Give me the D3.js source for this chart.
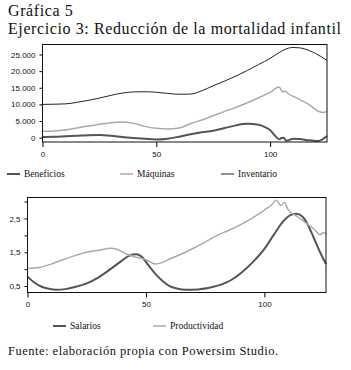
<!DOCTYPE html>
<html>
<head>
<meta charset="utf-8">
<script src="https://d3js.org/d3.v7.min.js"></script>
<style>
body { margin: 0; background: #fff; }
text { fill: #111; }
</style>
</head>
<body>
<script>
// top chart series (t, value)
var beneficios = [[0,200],[5,250],[10,400],[15,550],[20,750],[25,800],[30,600],[35,200],[40,-100],[45,-350],[50,-550],[55,-300],[60,300],[65,1000],[70,1600],[75,2100],[80,2900],[85,3700],[88,4100],[90,4200],[95,3900],[98,3100],[100,2300],[102,700],[104,-500],[105,-100],[106,0],[107,-900],[108,-800],[110,-300],[113,-400],[117,-800],[121,-1000],[123,-500],[125,500]];
var maquinas = [[0,1900],[5,2000],[10,2300],[15,2900],[20,3500],[25,4000],[30,4500],[35,4700],[40,4300],[45,3400],[50,2800],[55,2600],[60,2900],[65,4200],[70,5300],[75,6600],[80,7900],[85,9100],[90,10500],[95,12000],[100,13600],[104,15200],[105.5,13700],[106.5,14000],[108,13200],[112,11800],[117,10000],[122,7700],[123.5,7600],[125,7900]];
var inventario = [[0,10000],[5,10050],[10,10150],[15,10600],[20,11200],[25,11900],[30,12700],[35,13400],[40,13750],[45,13800],[50,13650],[55,13300],[60,13050],[65,13100],[70,14100],[75,15600],[80,17000],[85,18500],[90,20200],[95,22000],[100,23800],[105,26000],[108,26900],[110,27100],[113,27000],[115,26700],[120,25300],[125,23200]];

// bottom chart series
var salarios = [[0,0.78],[3,0.6],[6,0.48],[9,0.42],[12,0.39],[16,0.41],[20,0.47],[25,0.58],[30,0.76],[35,1.0],[40,1.26],[43,1.4],[46,1.44],[48,1.38],[51,1.12],[54,0.86],[57,0.65],[60,0.5],[63,0.43],[67,0.39],[72,0.4],[78,0.47],[82,0.55],[86,0.68],[90,0.88],[95,1.2],[100,1.6],[104,2.02],[108,2.42],[111,2.6],[113.5,2.64],[116,2.56],[118,2.36],[121,1.9],[123.5,1.5],[126,1.15]];
var productividad = [[0,1.02],[5,1.05],[10,1.15],[15,1.28],[20,1.4],[25,1.5],[30,1.56],[35,1.62],[38,1.58],[42,1.44],[46,1.35],[50,1.28],[54,1.15],[57,1.2],[60,1.3],[65,1.45],[70,1.62],[75,1.8],[80,2.0],[85,2.15],[90,2.32],[95,2.52],[100,2.75],[103,2.9],[105,3.04],[107,2.88],[108.5,2.97],[110,2.76],[114,2.55],[118,2.34],[121,2.18],[123.5,2.02],[125,2.08],[126,2.05]];

var xTicks = [0, 50, 100];
var topTicks = [0, 5000, 10000, 15000, 20000, 25000];
var botTicks = [0.5, 1, 1.5, 2, 2.5, 3];
var botLabels = [0.5, 1.5, 2.5];

var loc = d3.formatLocale({decimal: ",", thousands: ".", grouping: [3], currency: ["", ""]});
var fmtInt = loc.format(",d");
var fmtDec = loc.format(".1f");

var svg = d3.select("body")
    .append("svg")
    .attr("width", 351)
    .attr("height", 370)
    .style("display", "block");

var serif = "'Liberation Serif', 'DejaVu Serif', serif";
var sans = "'Liberation Sans', Arial, sans-serif";

svg.append("text").attr("x", 8).attr("y", 16)
    .style("font-family", serif).style("font-size", "16px")
    .style("letter-spacing", "0.6px").text("Gráfica 5");
svg.append("text").attr("x", 8).attr("y", 33.8)
    .style("font-family", serif).style("font-size", "16px")
    .style("letter-spacing", "0.6px").text("Ejercicio 3: Reducción de la mortalidad infantil");

function drawPlot(x, y, yTicks, labelFn, series) {
    var g = svg.append("g");
    series.forEach(function(s) {
        var line = d3.line()
            .x(function(d) { return x(d[0]); })
            .y(function(d) { return y(d[1]); })
            .curve(d3.curveMonotoneX);
        g.append("path")
            .datum(s.data)
            .attr("d", line)
            .attr("fill", "none")
            .attr("stroke", s.color)
            .attr("stroke-width", s.width);
    });

    var xAxis = d3.axisBottom(x).tickValues(xTicks).tickSize(5).tickFormat(d3.format("d"));
    var xg = g.append("g")
        .attr("transform", "translate(0," + y.range()[0] + ")")
        .call(xAxis);
    xg.select(".domain").remove();
    xg.selectAll("text").attr("y", 9).style("font-family", sans).style("font-size", "8px");

    var yAxis = d3.axisLeft(y).tickValues(yTicks).tickSize(3).tickFormat(labelFn);
    var yg = g.append("g")
        .attr("transform", "translate(" + x.range()[0] + ",0)")
        .call(yAxis);
    yg.select(".domain").remove();
    yg.selectAll("text").attr("x", -7).style("font-family", sans).style("font-size", "8px");

    g.append("rect")
        .attr("x", x.range()[0])
        .attr("y", y.range()[1])
        .attr("width", x.range()[1] - x.range()[0])
        .attr("height", y.range()[0] - y.range()[1])
        .attr("fill", "none")
        .attr("stroke", "#111")
        .attr("stroke-width", 1);
}

function legend(items, ly) {
    items.forEach(function(it) {
        svg.append("line")
            .attr("x1", it.x).attr("x2", it.x + 13)
            .attr("y1", ly).attr("y2", ly)
            .attr("stroke", it.color).attr("stroke-width", it.width);
        svg.append("text")
            .attr("x", it.x + 17).attr("y", ly + 3)
            .style("font-family", serif).style("font-size", "9.5px")
            .text(it.name);
    });
}

// top chart
var x1 = d3.scaleLinear().domain([0, 125]).range([42.5, 327]);
var y1 = d3.scaleLinear().domain([-1300, 28000]).range([142, 44.5]);
var topSeries = [
    {name: "Beneficios", data: beneficios, color: "#555", width: 2},
    {name: "Máquinas", data: maquinas, color: "#aaa", width: 1.5},
    {name: "Inventario", data: inventario, color: "#222", width: 1}
];
drawPlot(x1, y1, topTicks, fmtInt, topSeries);
legend([
    {name: "Beneficios", color: "#555", width: 2, x: 7},
    {name: "Máquinas", color: "#aaa", width: 1.5, x: 120},
    {name: "Inventario", color: "#222", width: 1, x: 221}
], 174);

// bottom chart
var x2 = d3.scaleLinear().domain([0, 126]).range([27.5, 326]);
var y2 = d3.scaleLinear().domain([0.31, 3.12]).range([292.5, 197.5]);
var botSeries = [
    {name: "Salarios", data: salarios, color: "#555", width: 2},
    {name: "Productividad", data: productividad, color: "#aaa", width: 1.5}
];
drawPlot(x2, y2, botTicks, function(d) { return botLabels.indexOf(d) >= 0 ? fmtDec(d) : ""; }, botSeries);
legend([
    {name: "Salarios", color: "#555", width: 2, x: 53},
    {name: "Productividad", color: "#aaa", width: 1.5, x: 153}
], 326);

svg.append("text").attr("x", 8).attr("y", 355)
    .style("font-family", serif).style("font-size", "12.5px")
    .style("letter-spacing", "0.5px")
    .text("Fuente: elaboración propia con Powersim Studio.");
</script>
</body>
</html>
